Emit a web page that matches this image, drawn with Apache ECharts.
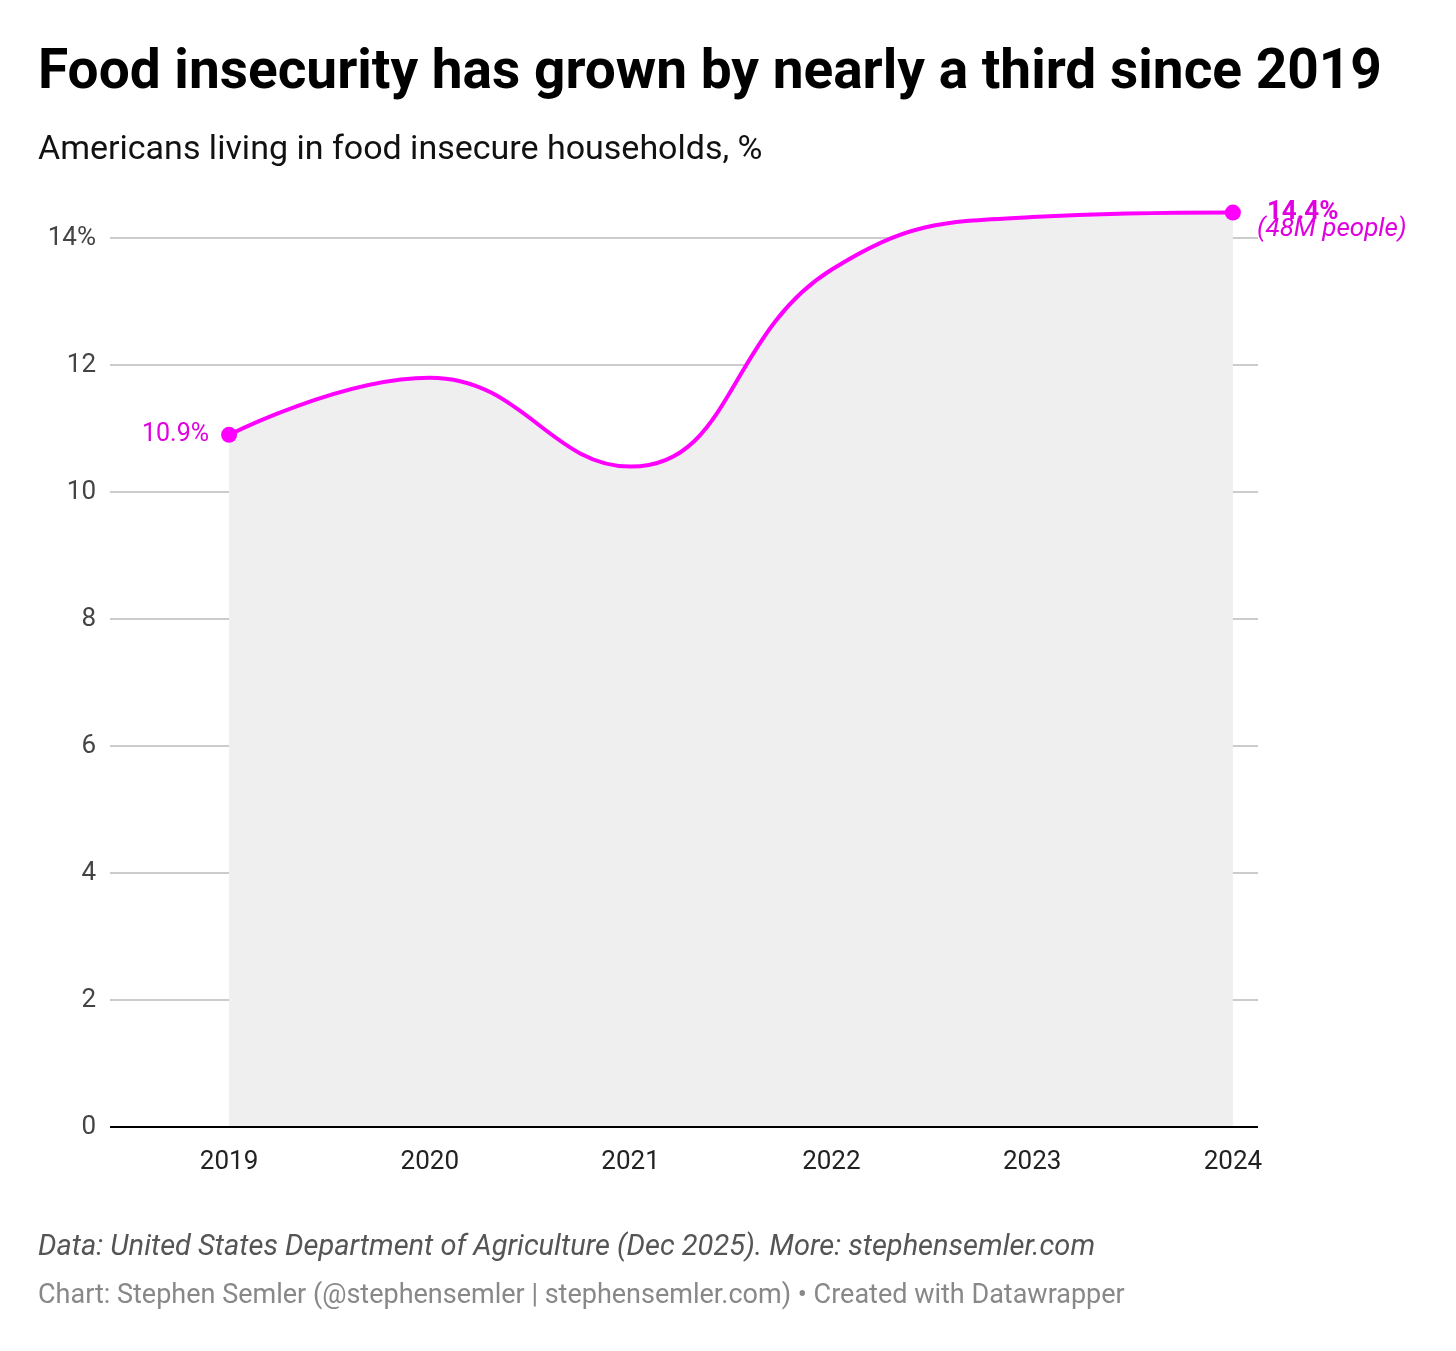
<!DOCTYPE html>
<html>
<head>
<meta charset="utf-8">
<script src="https://cdn.jsdelivr.net/npm/echarts@6/dist/echarts.min.js"></script>
<style>
  html, body { margin: 0; padding: 0; background: #fff; }
  #chart { width: 1456px; height: 1351px; }
</style>
</head>
<body>
<div id="chart"></div>
<script>
var years = [2019, 2020, 2021, 2022, 2023, 2024];
var values = [10.9, 11.8, 10.4, 13.5, 14.33, 14.4];
var yTicks = [0, 2, 4, 6, 8, 10, 12, 14];

var chart = echarts.init(document.getElementById('chart'));
var font = 'Roboto, "Noto Sans", sans-serif';
var pink = '#f0f';

var seriesData = years.map(function (y, i) {
    var item = { value: [y, values[i]] };
    if (i === 0) {
        item.symbolSize = 16;
        item.label = {
            show: true, position: 'left', distance: 12,
            formatter: '10.9%', color: '#e000e0', fontSize: 25, fontFamily: font
        };
    } else if (i === years.length - 1) {
        item.symbolSize = 16;
        item.label = {
            show: true, position: 'right', distance: 18, align: 'left',
            formatter: '{b|14.4%}\n{i|(48M people)}',
            rich: {
                b: { color: '#e000e0', fontSize: 26, fontWeight: 'bold', fontFamily: font, padding: [30, 0, 0, 8], lineHeight: 34 },
                i: { color: '#e000e0', fontSize: 26, fontStyle: 'italic', fontFamily: font, lineHeight: 30, padding: [0, 0, 0, -2] }
            }
        };
    } else {
        item.symbolSize = 0;
    }
    return item;
});

var option = {
    animation: false,
    backgroundColor: '#fff',
    title: [
        { text: 'Food insecurity has grown by nearly a third since 2019', left: 33, top: 42,
          textStyle: { fontSize: 55, fontWeight: 'bold', color: '#000', fontFamily: font } },
        { text: 'Americans living in food insecure households, %', left: 33, top: 128,
          textStyle: { fontSize: 34, fontWeight: 'normal', color: '#111', fontFamily: font } },
        { text: 'Data: United States Department of Agriculture (Dec 2025). More: stephensemler.com', left: 33, top: 1228,
          textStyle: { fontSize: 29, fontWeight: 'normal', fontStyle: 'italic', color: '#555', fontFamily: font } },
        { text: 'Chart: Stephen Semler (@stephensemler | stephensemler.com) \u2022 Created with Datawrapper', left: 33, top: 1278,
          textStyle: { fontSize: 27, fontWeight: 'normal', color: '#888', fontFamily: font } }
    ],
    grid: { left: 110, right: 198, top: 111, bottom: 224 },
    xAxis: {
        type: 'value', min: 2018.407, max: 2024.125,
        axisLine: { show: false }, axisTick: { show: false }, splitLine: { show: false },
        axisLabel: { customValues: years, color: '#222', fontSize: 26, fontFamily: font, margin: 22,
            formatter: function (v) { return String(v); } }
    },
    yAxis: {
        type: 'value', min: 0, max: 16, interval: 2,
        axisLine: { show: false }, axisTick: { show: false },
        splitLine: { lineStyle: { color: ['#ccc', '#ccc', '#ccc', '#ccc', '#ccc', '#ccc', '#ccc', '#ccc', 'rgba(0,0,0,0)'], width: 2 } },
        axisLabel: {
            customValues: yTicks, color: '#444', fontSize: 26, fontFamily: font, margin: 14,
            formatter: function (v) { return v === 14 ? '14%' : String(v); }
        }
    },
    series: [
        {
            type: 'line', data: seriesData, smooth: 0.45,
            symbol: 'circle', itemStyle: { color: pink },
            lineStyle: { color: pink, width: 4 },
            areaStyle: { color: '#efefef', opacity: 1 },
            z: 3
        },
        {
            type: 'line', silent: true, symbol: 'none',
            data: [[2018.407, 0], [2024.125, 0]],
            lineStyle: { color: '#000', width: 2 }, z: 4
        }
    ]
};
chart.setOption(option);
</script>
</body>
</html>
